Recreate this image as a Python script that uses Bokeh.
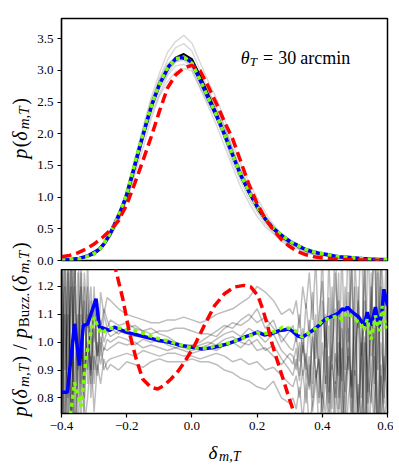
import math
import numpy as np
from bokeh.plotting import figure
from bokeh.layouts import column, row
from bokeh.models import Range1d, FixedTicker, Label
from bokeh.core.properties import value
from bokeh.embed import file_html
from bokeh.resources import INLINE

# ---------------- data ----------------
x_pdf = [-0.4, -0.375, -0.35, -0.325, -0.3, -0.275, -0.25, -0.225, -0.2, -0.175,
         -0.15, -0.125, -0.1, -0.075, -0.05, -0.025, 0.0, 0.025, 0.05, 0.075,
         0.1, 0.125, 0.15, 0.175, 0.2, 0.225, 0.25, 0.275, 0.3, 0.325,
         0.35, 0.375, 0.4, 0.425, 0.45, 0.475, 0.5, 0.525, 0.55, 0.575, 0.6]
buzzard_pdf = [0.005, 0.015, 0.03, 0.06, 0.10, 0.21, 0.41, 0.67, 1.00, 1.47,
               1.95, 2.40, 2.76, 3.04, 3.20, 3.26, 3.18, 2.92, 2.62, 2.33,
               2.01, 1.66, 1.33, 1.06, 0.83, 0.64, 0.49, 0.38, 0.29, 0.23,
               0.165, 0.125, 0.10, 0.075, 0.055, 0.045, 0.035, 0.028, 0.02, 0.015, 0.01]
red_pdf = [0.06, 0.08, 0.12, 0.18, 0.26, 0.36, 0.48, 0.63, 0.88, 1.22,
           1.58, 1.95, 2.35, 2.72, 2.93, 3.04, 3.08, 3.00, 2.75, 2.48,
           2.19, 1.92, 1.56, 1.20, 0.90, 0.66, 0.48, 0.33, 0.22, 0.14,
           0.09, 0.06, 0.04, 0.03, 0.02, 0.015, 0.01, 0.008, 0.006, 0.004, 0.003]

blue_x = [-0.4, -0.382, -0.36, -0.345, -0.333, -0.32, -0.294, -0.284, -0.27, -0.253,
          -0.238, -0.22, -0.202, -0.18, -0.161, -0.14, -0.12, -0.1, -0.07, -0.05,
          -0.033, -0.015, 0.0, 0.028, 0.05, 0.069, 0.09, 0.11, 0.13, 0.15,
          0.165, 0.181, 0.202, 0.222, 0.242, 0.258, 0.268, 0.283, 0.298, 0.31,
          0.325, 0.339, 0.355, 0.37, 0.39, 0.41, 0.436, 0.45, 0.461, 0.469,
          0.477, 0.492, 0.512, 0.52, 0.528, 0.538, 0.548, 0.556, 0.563, 0.574,
          0.582, 0.589, 0.6]
blue_ratio = [0.82, 0.82, 1.066, 0.916, 1.06, 1.065, 1.156, 1.054, 1.05, 1.042,
              1.054, 1.045, 1.036, 1.03, 1.024, 1.018, 1.012, 1.006, 1.0, 0.994,
              0.988, 0.985, 0.982, 0.976, 0.978, 0.982, 0.988, 0.994, 1.003, 1.012,
              1.02, 1.026, 1.036, 1.026, 1.03, 1.036, 1.042, 1.044, 1.048, 1.038,
              1.022, 1.018, 1.03, 1.042, 1.06, 1.084, 1.096, 1.105, 1.12, 1.115,
              1.126, 1.108, 1.09, 1.075, 1.06, 1.108, 1.06, 1.09, 1.126, 1.058,
              1.10, 1.19, 1.13]

green_x = [-0.4, -0.38, -0.37, -0.36, -0.35, -0.34, -0.325, -0.309, -0.299, -0.29,
           -0.279, -0.256, -0.236, -0.22, -0.2, -0.17, -0.14, -0.11, -0.08, -0.05,
           -0.02, 0.0, 0.028, 0.05, 0.069, 0.09, 0.11, 0.13, 0.15, 0.18,
           0.2, 0.22, 0.24, 0.26, 0.278, 0.3, 0.319, 0.339, 0.36, 0.38,
           0.4, 0.42, 0.45, 0.46, 0.477, 0.5, 0.518, 0.528, 0.538, 0.55,
           0.563, 0.574, 0.584, 0.594, 0.6]
green_ratio = [0.60, 0.70, 0.76, 0.856, 0.81, 0.77, 0.94, 1.04, 1.09, 1.06,
               1.03, 1.05, 1.05, 1.05, 1.045, 1.04, 1.028, 1.015, 1.006, 0.996,
               0.985, 0.98, 0.978, 0.98, 0.985, 0.99, 0.996, 1.004, 1.012, 1.024,
               1.034, 1.03, 1.034, 1.04, 1.054, 1.05, 1.04, 1.018, 1.035, 1.05,
               1.078, 1.085, 1.096, 1.08, 1.108, 1.08, 1.07, 1.04, 1.084, 1.01,
               1.096, 1.04, 1.13, 1.05, 1.07]

red_x = [-0.4, -0.3, -0.26, -0.233, -0.212, -0.192, -0.171, -0.151, -0.126, -0.105,
         -0.085, -0.064, -0.043, -0.023, 0.008, 0.038, 0.069, 0.1, 0.13, 0.16,
         0.181, 0.202, 0.217, 0.232, 0.247, 0.263, 0.283, 0.298, 0.313, 0.33,
         0.4, 0.5, 0.6]
red_ratio = [3.0, 1.75, 1.42, 1.257, 1.156, 1.036, 0.94, 0.868, 0.838, 0.832,
             0.845, 0.868, 0.895, 0.928, 0.988, 1.06, 1.13, 1.174, 1.198, 1.204,
             1.198, 1.168, 1.12, 1.06, 0.99, 0.93, 0.855, 0.80, 0.748, 0.69,
             0.45, 0.25, 0.12]

# simulation ratio curves: sampled on a left (noisy), middle, right (noisy) grid
sim_x = np.concatenate([np.linspace(-0.40, -0.26, 15),
                        np.linspace(-0.25, 0.30, 23),
                        np.linspace(0.31, 0.60, 30)])
sim_left = [
    [1.40, 0.60, 1.30, 0.70, 1.35, 0.80, 1.25, 0.75, 1.30, 0.85, 1.20, 0.90, 1.18, 1.10, 1.16],
    [0.50, 1.40, 0.65, 1.30, 0.70, 1.25, 0.80, 1.20, 0.85, 1.15, 0.90, 1.12, 0.95, 1.10, 1.05],
    [1.30, 0.70, 1.45, 0.60, 1.20, 0.90, 1.30, 0.80, 1.10, 0.90, 1.15, 0.95, 1.08, 1.00, 1.04],
    [0.70, 1.20, 0.55, 1.35, 0.85, 1.10, 0.70, 1.15, 0.90, 1.05, 0.85, 1.00, 0.92, 0.98, 0.97],
    [1.10, 0.45, 1.25, 0.75, 1.40, 0.65, 1.00, 0.85, 1.20, 0.80, 0.95, 0.88, 1.00, 0.90, 0.93],
    [0.40, 1.10, 0.80, 1.50, 0.60, 0.90, 1.10, 0.70, 0.80, 0.95, 0.75, 0.92, 0.85, 0.94, 0.90],
    [1.50, 0.90, 1.10, 0.60, 1.20, 1.40, 0.85, 1.25, 1.05, 1.20, 1.00, 1.15, 1.05, 1.12, 1.08],
    [0.80, 1.30, 0.90, 1.20, 0.50, 1.05, 1.20, 0.90, 1.00, 0.88, 1.05, 0.95, 1.02, 0.97, 1.01],
]
sim_mid = [
    [1.15, 1.12, 1.10, 1.09, 1.08, 1.07, 1.07, 1.08, 1.08, 1.09, 1.08, 1.07, 1.08, 1.10, 1.11, 1.12, 1.14, 1.16, 1.20, 1.18, 1.15, 1.10, 1.12],
    [1.08, 1.06, 1.07, 1.05, 1.04, 1.05, 1.03, 1.02, 1.00, 0.99, 0.99, 1.00, 1.02, 1.04, 1.06, 1.05, 1.08, 1.10, 1.07, 1.09, 1.05, 1.02, 0.98],
    [1.02, 1.04, 1.03, 1.02, 1.03, 1.01, 1.00, 1.01, 0.99, 0.98, 0.97, 0.98, 0.99, 1.01, 1.03, 1.04, 1.02, 1.05, 1.03, 1.00, 1.03, 0.97, 0.94],
    [0.98, 1.00, 0.99, 1.00, 0.98, 0.99, 0.98, 0.97, 0.98, 0.97, 0.96, 0.97, 0.98, 0.97, 0.99, 1.00, 0.98, 1.01, 0.97, 0.98, 0.95, 0.92, 0.96],
    [0.94, 0.95, 0.96, 0.95, 0.97, 0.96, 0.95, 0.96, 0.96, 0.95, 0.95, 0.94, 0.95, 0.96, 0.95, 0.93, 0.94, 0.92, 0.93, 0.90, 0.91, 0.88, 0.85],
    [0.92, 0.90, 0.93, 0.92, 0.91, 0.93, 0.94, 0.93, 0.93, 0.93, 0.94, 0.93, 0.93, 0.92, 0.90, 0.89, 0.87, 0.86, 0.84, 0.83, 0.86, 0.80, 0.78],
    [1.05, 1.03, 1.05, 1.06, 1.04, 1.03, 1.04, 1.04, 1.05, 1.05, 1.04, 1.03, 1.03, 1.02, 1.05, 1.07, 1.06, 1.08, 1.12, 1.05, 1.08, 1.00, 1.04],
    [1.00, 1.02, 1.01, 0.99, 1.01, 1.00, 1.01, 0.99, 0.98, 0.99, 0.98, 0.99, 1.00, 0.99, 1.01, 1.02, 1.00, 0.99, 1.01, 0.97, 0.99, 0.94, 0.90],
]
sim_right = [
    [1.10, 1.15, 1.05, 1.20, 1.12, 1.25, 1.08, 1.30, 0.95, 1.35, 0.85, 1.30, 1.00, 1.40, 0.80, 1.35, 0.90, 1.45, 0.75, 1.30, 1.05, 1.50, 0.70, 1.40, 0.95, 1.55, 0.65, 1.35, 1.10, 1.45],
    [0.97, 1.02, 0.93, 1.05, 0.90, 1.08, 0.85, 1.10, 0.80, 1.15, 0.95, 0.75, 1.20, 0.85, 1.25, 0.70, 1.10, 0.90, 1.30, 0.65, 1.20, 0.80, 1.35, 0.60, 1.25, 0.85, 1.40, 0.70, 1.15, 0.90],
    [0.92, 0.98, 0.88, 1.00, 0.86, 0.95, 0.80, 1.05, 0.90, 0.75, 1.10, 0.82, 1.00, 0.70, 1.15, 0.85, 0.65, 1.05, 0.80, 1.20, 0.72, 1.00, 0.60, 1.10, 0.85, 0.70, 1.25, 0.65, 0.95, 0.80],
    [0.95, 0.90, 1.00, 0.88, 0.96, 0.84, 1.02, 0.87, 0.94, 0.80, 1.08, 0.78, 0.98, 1.12, 0.76, 1.05, 0.82, 1.18, 0.72, 0.96, 1.10, 0.68, 1.02, 0.88, 1.20, 0.74, 1.00, 1.30, 0.78, 1.05],
    [0.84, 0.88, 0.80, 0.90, 0.78, 0.92, 0.75, 0.86, 0.95, 0.72, 0.88, 0.70, 0.92, 0.80, 1.00, 0.68, 0.85, 0.95, 0.66, 0.90, 0.75, 1.05, 0.62, 0.88, 0.78, 1.10, 0.60, 0.92, 0.70, 0.85],
    [0.80, 0.76, 0.84, 0.72, 0.86, 0.70, 0.78, 0.90, 0.68, 0.82, 0.74, 0.95, 0.65, 0.86, 0.72, 0.98, 0.62, 0.80, 0.90, 0.60, 0.85, 0.70, 1.00, 0.58, 0.82, 0.95, 0.62, 0.88, 0.75, 0.66],
    [1.06, 1.00, 1.10, 0.96, 1.14, 1.02, 1.18, 0.94, 1.10, 1.22, 0.98, 1.16, 0.90, 1.25, 1.04, 0.86, 1.20, 1.00, 1.30, 0.88, 1.15, 0.95, 1.28, 0.82, 1.12, 1.35, 0.90, 1.20, 0.80, 1.30],
    [0.88, 0.94, 0.86, 0.99, 0.92, 0.83, 1.04, 0.90, 0.78, 1.00, 0.85, 1.06, 0.76, 0.96, 0.88, 1.12, 0.74, 0.98, 0.84, 1.08, 0.70, 0.94, 1.15, 0.78, 0.90, 1.05, 0.72, 1.00, 0.86, 1.18],
]

x_ticks = [-0.4, -0.2, 0.0, 0.2, 0.4, 0.6]
x_tick_labels = ["\u22120.4", "\u22120.2", "0.0", "0.2", "0.4", "0.6"]
top_ticks = [0.0, 0.5, 1.0, 1.5, 2.0, 2.5, 3.0, 3.5]
top_tick_labels = ["0.0", "0.5", "1.0", "1.5", "2.0", "2.5", "3.0", "3.5"]
bot_ticks = [0.8, 0.9, 1.0, 1.1, 1.2]
bot_tick_labels = ["0.8", "0.9", "1.0", "1.1", "1.2"]

# ---------------- text helpers ----------------
FONT = "Liberation Serif"
RM = {" ": .25, "(": .333, ")": .333, ",": .25, ".": .25, "/": .278, "=": .564,
      "B": .667, "T": .611, "a": .444, "c": .444, "i": .278, "m": .778, "n": .5,
      "p": .5, "r": .333, "u": .5, "z": .444}
IT = {" ": .25, "(": .333, ")": .333, ",": .25, "p": .5, "m": .722, "T": .556,
      "\u03b4": .5, "\u03b8": .5}


def twidth(s, size, italic):
    tbl = IT if italic else RM
    return sum(tbl.get(c, 0.5) for c in s) * size


def layout_pieces(pieces, F, S):
    """pieces: (text, italic, sub, gap_before_px) -> list of (piece, start, size)"""
    out, pos = [], 0.0
    for t, it, sub, gap in pieces:
        size = S if sub else F
        pos += gap
        out.append(((t, it, sub), pos, size))
        pos += twidth(t, size, it)
    return out, pos


def glyph_text(fig, pieces, cx, cy, vertical, F, S, D):
    """draw composed text on a figure whose data units are pixels (y up)"""
    items, total = layout_pieces(pieces, F, S)
    for (t, it, sub), start, size in items:
        shift = D if sub else 0
        p = start - total / 2
        if vertical:
            x, y, ang = cx + shift, cy + p, math.pi / 2
        else:
            x, y, ang = cx + p, cy - shift, 0.0
        fig.text(x=[x], y=[y], text=[t], angle=ang, text_font=value(FONT),
                 text_font_style=value("italic" if it else "normal"),
                 text_font_size=value(f"{size}px"), text_color="black",
                 text_align=value("left"), text_baseline=value("alphabetic"))


def style(fig):
    fig.outline_line_color = "black"
    fig.outline_line_width = 1.5
    fig.xgrid.visible = False
    fig.ygrid.visible = False
    fig.background_fill_color = "white"
    fig.border_fill_color = "white"
    for ax in fig.axis:
        ax.axis_line_color = "black"
        ax.axis_line_width = 1.2
        ax.major_tick_in = 0
        ax.major_tick_out = 4
        ax.major_tick_line_width = 1.2
        ax.minor_tick_line_color = None
        ax.major_label_text_font = FONT
        ax.major_label_text_font_size = "13px"
        ax.major_label_text_color = "black"
        ax.major_label_standoff = 4


def text_canvas(w, h):
    f = figure(width=w, height=h, output_backend="svg", toolbar_location=None,
               x_range=Range1d(0, w), y_range=Range1d(0, h),
               x_axis_location=None, y_axis_location=None, min_border=0)
    f.outline_line_color = None
    f.grid.visible = False
    f.background_fill_color = "white"
    f.border_fill_color = "white"
    return f


black_at = lambda xs: np.interp(xs, x_pdf, buzzard_pdf)
sims = [l + m + r for l, m, r in zip(sim_left, sim_mid, sim_right)]

# ---------------- top panel ----------------
p1 = figure(width=359, height=269, output_backend="svg", toolbar_location=None,
            x_range=Range1d(-0.4, 0.6), y_range=Range1d(0.0, 3.82),
            x_axis_location=None, min_border_left=26, min_border_right=6,
            min_border_top=18, min_border_bottom=9)
style(p1)
p1.yaxis.ticker = FixedTicker(ticks=top_ticks)
p1.yaxis.major_label_overrides = dict(zip(top_ticks, top_tick_labels))

for s in sims:
    p1.line(sim_x, black_at(sim_x) * np.array(s), line_color="black", line_alpha=0.15, line_width=1.5)
p1.line(x_pdf, buzzard_pdf, line_color="black", line_width=2)
p1.line(blue_x, black_at(blue_x) * np.array(blue_ratio), line_color="#0000ff", line_width=3.5)
p1.line(green_x, black_at(green_x) * np.array(green_ratio), line_color="#7cfc00", line_width=3.5,
        line_dash="4 4")
p1.line(x_pdf, red_pdf, line_color="#ff0000", line_width=3.5, line_dash="10 5")

# annotation (inside the frame)
ann = [("\u03b8", True, False, 0), ("T", True, True, 0), ("=", False, False, 6),
       ("30", False, False, 5), ("arcmin", False, False, 4)]
items, _ = layout_pieces(ann, 18, 13)
for (t, it, sub), start, size in items:
    p1.add_layout(Label(x=0.15, y=3.2, x_offset=start, y_offset=-(4 if sub else 0), text=t,
                        text_font=FONT, text_font_style="italic" if it else "normal",
                        text_font_size=f"{size}px", text_color="black",
                        text_align="left", text_baseline="alphabetic"))

# ---------------- bottom panel ----------------
p2 = figure(width=359, height=168, output_backend="svg", toolbar_location=None,
            x_range=Range1d(-0.4, 0.6), y_range=Range1d(0.744, 1.261),
            min_border_left=26, min_border_right=6, min_border_top=0, min_border_bottom=24)
style(p2)
p2.xaxis.ticker = FixedTicker(ticks=x_ticks)
p2.xaxis.major_label_overrides = dict(zip(x_ticks, x_tick_labels))
p2.yaxis.ticker = FixedTicker(ticks=bot_ticks)
p2.yaxis.major_label_overrides = dict(zip(bot_ticks, bot_tick_labels))

for s in sims:
    p2.line(sim_x, s, line_color="black", line_alpha=0.26, line_width=1.5)
p2.line(blue_x, blue_ratio, line_color="#0000ff", line_width=3.5)
p2.line(green_x, green_ratio, line_color="#7cfc00", line_width=3.5, line_dash="4 4")
p2.line(red_x, red_ratio, line_color="#ff0000", line_width=3.5, line_dash="10 5")

# ---------------- axis titles (composed, with subscripts) ----------------
ylab = text_canvas(34, 437)
glyph_text(ylab, [("p", True, False, 0), ("(", False, False, 1.5), ("\u03b4", True, False, 0),
                  ("m,T", True, True, 1.5), (")", False, False, 1.5)],
           19, 309, True, 20, 15, 4)
glyph_text(ylab, [("p", True, False, 0), ("(", False, False, 1.5), ("\u03b4", True, False, 0),
                  ("m,T", True, True, 1.5), (")", False, False, 1.5), ("/", False, False, 6),
                  ("p", True, False, 6), ("Buzz.", False, True, 1), ("(", False, False, 1),
                  ("\u03b4", True, False, 0), ("m,T", True, True, 1.5), (")", False, False, 1.5)],
           19, 108, True, 20, 15, 4)

xlab = text_canvas(393, 28)
glyph_text(xlab, [("\u03b4", True, False, 0), ("m,T", True, True, 1)],
           224, 13, False, 19, 14, 4)

layout = column(row(ylab, column(p1, p2)), xlab)
open("out.html", "w").write(file_html(layout, INLINE))
